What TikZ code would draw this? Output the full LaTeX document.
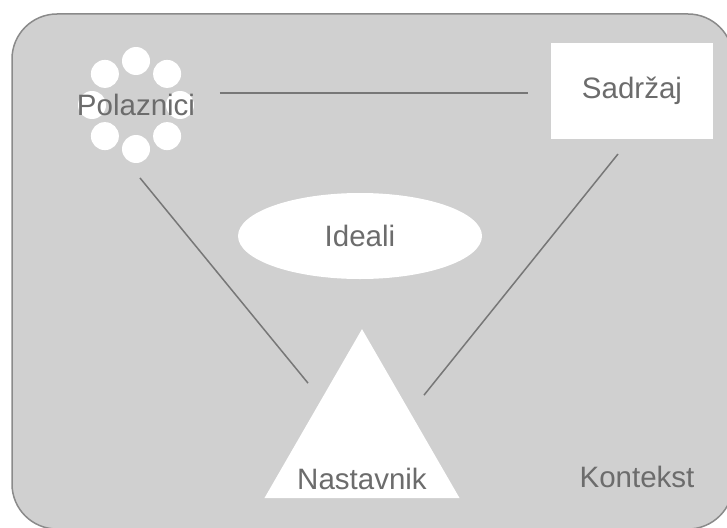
\documentclass[tikz,border=0pt]{standalone}
\usepackage{fontspec}
\setmainfont{Liberation Sans}
\usepackage{xcolor}
\usetikzlibrary{shapes.geometric}
\definecolor{ctxfill}{HTML}{D0D0D0}
\definecolor{ctxline}{HTML}{8A8A8A}
\definecolor{linkgray}{HTML}{777777}
\definecolor{txtgray}{HTML}{6C6C6C}
\begin{document}
\begin{tikzpicture}[x=1pt,y=-1pt,
  lbl/.style={text=txtgray,font=\fontsize{29.5}{34}\selectfont,inner sep=0pt,outer sep=0pt},
  link/.style={draw=linkgray,line width=1.5pt},
  dot/.style={fill=white}]
\useasboundingbox (0,0) rectangle (727,527);
\clip (0,0) rectangle (727,527);
\draw[fill=ctxfill,draw=ctxline,line width=1.5pt,rounded corners=45pt] (12,14) rectangle (733,529);
\coordinate (polc) at (136,105);
\foreach \a in {0,45,...,315} {\fill[dot] (polc) ++(\a:44) circle (14);}
\node[lbl,circle,minimum size=116pt] (pol) at (polc) {Polaznici};
\node[lbl,fill=white,minimum width=162pt,minimum height=96pt] (sad) at (632,91) {Sadržaj};
\node[lbl,ellipse,fill=white,minimum width=244pt,minimum height=86pt] (ide) at (360,236) {Ideali};
\node[regular polygon,regular polygon sides=3,fill=white,minimum size=225.2pt,inner sep=0pt,outer sep=0pt] (tri) at (362,441.7) {};
\node[lbl] (nas) at (362,479) {Nastavnik};
\node[lbl] (kon) at (637,477) {Kontekst};
\draw[link,shorten <=24pt,shorten >=23pt] ([yshift=-2pt]sad.west -| pol.east) -- ([yshift=-2pt]sad.west);
\draw[link] ([xshift=4pt,yshift=-13pt]pol.south) -- ([xshift=-54pt,yshift=-54pt]tri.corner 1);
\draw[link] ([xshift=-14pt,yshift=-15pt]sad.south) -- ([xshift=62pt,yshift=-66pt]tri.corner 1);
\end{tikzpicture}
\end{document}
